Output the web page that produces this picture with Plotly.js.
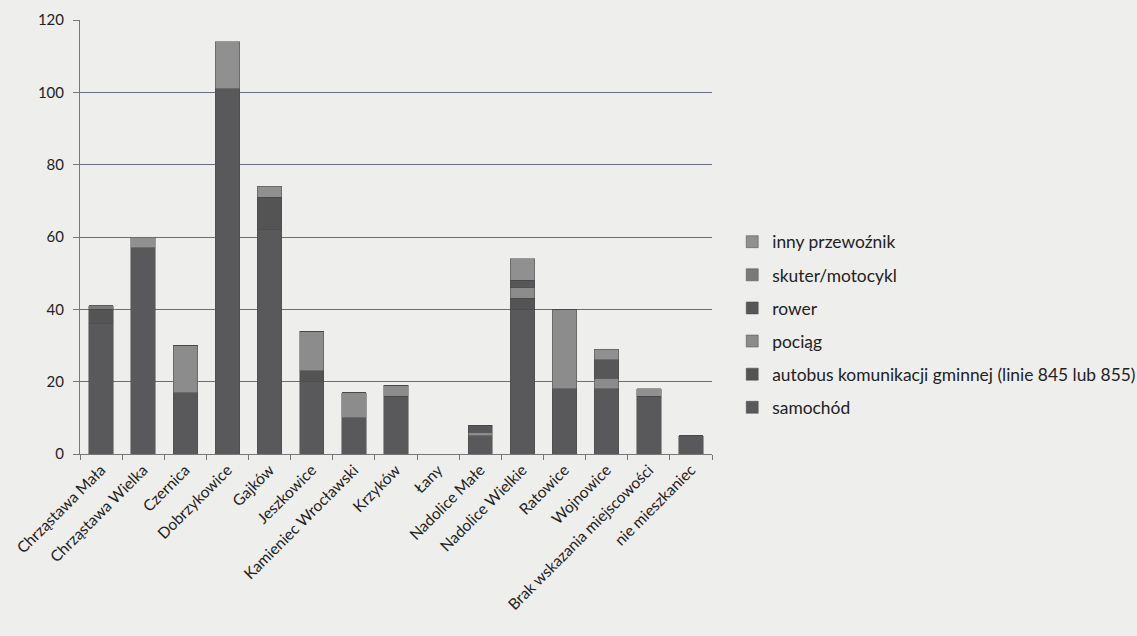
<!DOCTYPE html>
<html><head><meta charset="utf-8">
<script src="https://cdn.plot.ly/plotly-3.0.1.min.js"></script>
<style>html,body{margin:0;padding:0;background:#eeeeec;}#chart{width:1137px;height:636px;}</style>
</head><body><div id="chart"></div>
<script>
const categories = ["Chrząstawa Mała","Chrząstawa Wielka","Czernica","Dobrzykowice","Gajków","Jeszkowice","Kamieniec Wrocławski","Krzyków","Łany","Nadolice Małe","Nadolice Wielkie","Ratowice","Wojnowice","Brak wskazania miejscowości","nie mieszkaniec"];
const samochod = [36, 57, 17, 101, 62, 20, 10, 16, 0, 5, 40, 18, 18, 16, 5];
const autobus  = [4, 0, 0, 0, 9, 3, 0, 0, 0, 0, 3, 0, 0, 0, 0];
const pociag   = [0, 0, 13, 0, 0, 11, 7, 3, 0, 1, 3, 22, 3, 0, 0];
const rower    = [0, 0, 0, 0, 0, 0, 0, 0, 0, 2, 2, 0, 5, 0, 0];
const skuter   = [1, 0, 0, 0, 0, 0, 0, 0, 0, 0, 0, 0, 0, 0, 0];
const inny     = [0, 3, 0, 13, 3, 0, 0, 0, 0, 0, 6, 0, 3, 2, 0];
const seriesNames = ["samochód","autobus komunikacji gminnej (linie 845 lub 855)","pociąg","rower","skuter/motocykl","inny przewoźnik"];
const seriesData = [samochod, autobus, pociag, rower, skuter, inny];
const seriesColors = ["#59595b","#545455","#8c8c8c","#575759","#7a7a7c","#909090"];

const traces = seriesData.map((vals, i) => ({
  type: "bar", x: categories, y: vals, name: seriesNames[i],
  legendgroup: "g" + i, legendrank: 100 - i,
  marker: {color: seriesColors[i], line: {color: "#484848", width: 0.5}},
  hoverinfo: "x+y+name"
}));

const layout = {
  width: 1137, height: 636,
  paper_bgcolor: "#eeeeec", plot_bgcolor: "#eeeeec",
  barmode: "stack", bargap: 0.42,
  margin: {l: 80, r: 425, t: 20, b: 182},
  font: {family: "Lato, 'Open Sans', sans-serif", color: "#222", size: 14},
  xaxis: {
    type: "category", tickangle: -45, tickson: "boundaries",
    ticks: "outside", ticklen: 5, tickcolor: "#777",
    showline: true, linecolor: "#777", linewidth: 1,
    showgrid: false, tickfont: {size: 15.5, color: "#222"}
  },
  yaxis: {
    range: [0, 120], dtick: 20, tick0: 0,
    ticks: "outside", ticklen: 6, tickcolor: "#777",
    showline: true, linecolor: "#777", linewidth: 1,
    showgrid: true, gridcolor: "#686d80", gridwidth: 1,
    zeroline: false, ticklabelstandoff: 6,
    tickfont: {size: 15, color: "#222"}
  },
  legend: {
    xref: "container", yref: "container",
    x: 0.644, y: 0.648, xanchor: "left", yanchor: "top",
    tracegroupgap: 7.5,
    font: {size: 17.4, color: "#222"}, bgcolor: "rgba(0,0,0,0)"
  },
  showlegend: true
};
Plotly.newPlot("chart", traces, layout, {displayModeBar: false, staticPlot: true});
</script></body></html>
